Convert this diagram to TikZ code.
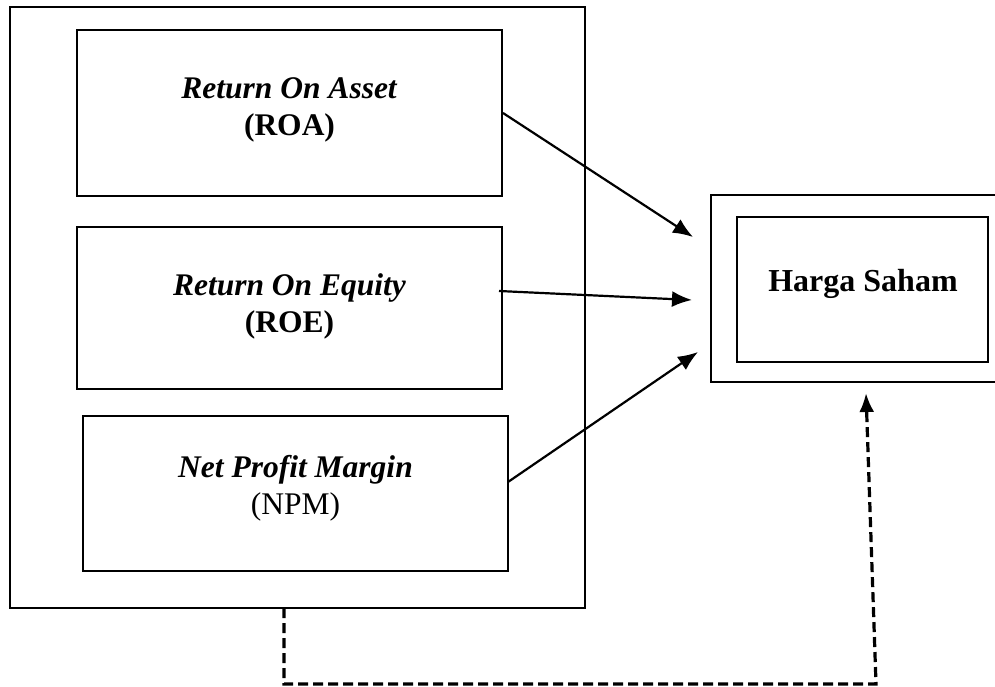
\documentclass[tikz,border=0pt]{standalone}
\usepackage{fontspec}
\setmainfont{Liberation Serif}
\usetikzlibrary{arrows.meta,calc}
\begin{document}
\begin{tikzpicture}[x=1pt,y=-1pt,
  box/.style={draw,line width=2pt,inner sep=0pt},
  lbl/.style={align=center,font=\fontsize{31.5}{37}\selectfont},
  arr/.style={line width=2.2pt,-{Latex[length=20pt,width=16pt]}},
  dsh/.style={line width=3.2pt,dash pattern=on 10pt off 5pt,-{Latex[length=19pt,width=15pt]}}]
\useasboundingbox[fill=white] (0,0) rectangle (995,687);
% outer left frame
\node[box,minimum width=575pt,minimum height=601pt] (outer) at (297.5,307.5) {};
% inner boxes
\node[box,minimum width=425pt,minimum height=166pt] (roa) at (289.5,113) {};
\node[box,minimum width=425pt,minimum height=162pt] (roe) at (289.5,308) {};
\node[box,minimum width=425pt,minimum height=155pt] (npm) at (295.5,493.5) {};
\node[lbl] (roat) at (289.5,110) {\textbf{\textit{Return On Asset}}\\\textbf{(ROA)}};
\node[lbl] (roet) at (289.5,306) {\textbf{\textit{Return On Equity}}\\\textbf{(ROE)}};
\node[lbl] (npmt) at (295.5,488) {\textbf{\textit{Net Profit Margin}}\\(NPM)};
% right frame (cut at right edge)
\node[box,minimum width=300pt,minimum height=187pt] (hsout) at (861,288.5) {};
\node[box,minimum width=251pt,minimum height=145pt] (hs) at (862.5,289.5) {};
\node[font=\fontsize{32}{37}\selectfont\bfseries] (hst) at (863,284) {Harga Saham};
% arrow ends
\coordinate (t1) at (693,237);
\coordinate (s2) at (499,291);
\coordinate (t2) at (692,300);
\coordinate (s3) at (508,482);
\coordinate (t3) at (698,352);
\coordinate (d0) at (284,608);
\coordinate (d1) at (284,684);
\coordinate (d2) at (876,684);
\coordinate (t4) at (866,393);
\draw[arr] (roa.east) -- (t1);
\draw[arr] (s2) -- (t2);
\draw[arr] (s3) -- (t3);
\draw[dsh] (d0) -- (d1) -- (d2) -- (t4);
\end{tikzpicture}
\end{document}
